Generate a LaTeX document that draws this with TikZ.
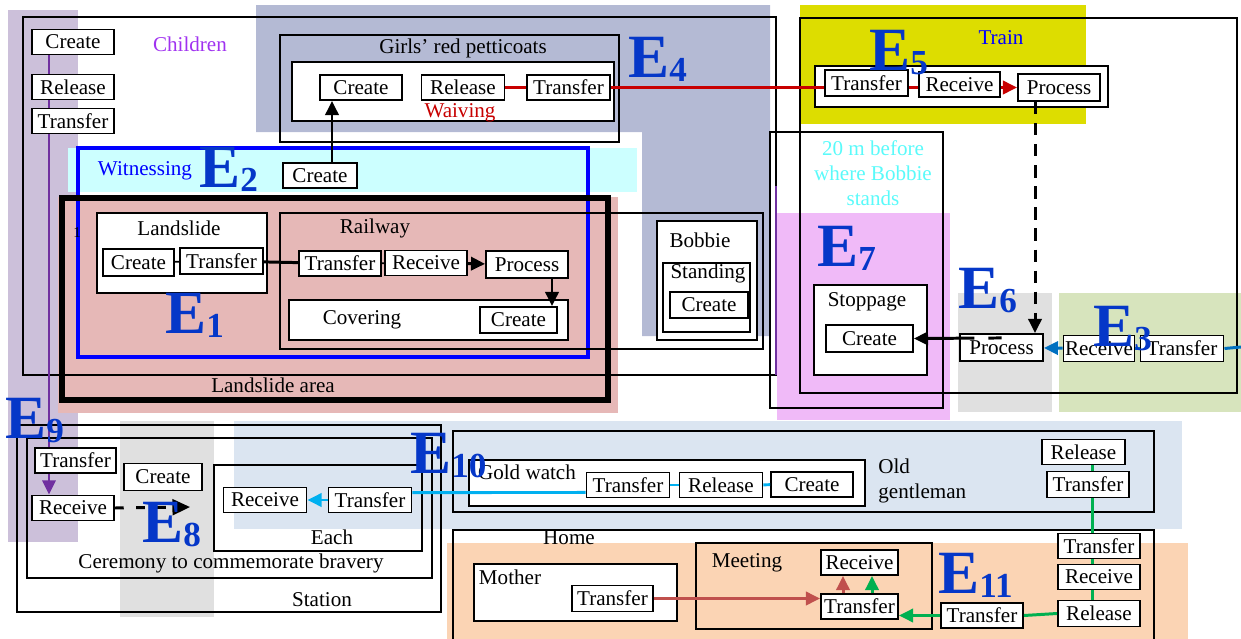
\documentclass[tikz,border=0pt]{standalone}
\usepackage{fontspec}
\setmainfont{Liberation Serif}
\usetikzlibrary{arrows.meta}

\definecolor{evblue}{RGB}{5,55,200}
\definecolor{lilac}{RGB}{204,192,218}
\definecolor{slate}{RGB}{180,186,212}
\definecolor{paleaqua}{RGB}{204,255,255}
\definecolor{rosy}{RGB}{230,184,183}
\definecolor{mustard}{RGB}{221,221,0}
\definecolor{orchid}{RGB}{240,186,248}
\definecolor{pebble}{RGB}{224,224,224}
\definecolor{sage}{RGB}{215,228,189}
\definecolor{mist}{RGB}{219,229,241}
\definecolor{apricot}{RGB}{251,212,180}
\definecolor{kidtxt}{RGB}{160,50,240}
\definecolor{aquatxt}{RGB}{90,250,250}
\definecolor{waive}{RGB}{200,0,0}
\definecolor{plum}{RGB}{112,48,160}
\definecolor{steel}{RGB}{0,112,192}
\definecolor{sky}{RGB}{0,176,240}
\definecolor{leaf}{RGB}{0,176,80}
\definecolor{brick}{RGB}{192,80,77}

\newcommand{\eventlab}[1]{E\raisebox{-2.5pt}{\fontsize{20}{20}\selectfont#1}}

\begin{document}
\begin{tikzpicture}[x=0.02cm,y=-0.02cm]
\tikzstyle{every node}+=[inner sep=0pt,font=\fontsize{12}{14.2}\selectfont]
\tikzstyle{op}=[draw,line width=1.1pt,fill=white,minimum width=1.64cm,minimum height=0.5cm]
\tikzstyle{frame}=[draw,line width=0.85pt]
\tikzstyle{wframe}=[frame,fill=white]
\tikzstyle{ev}=[anchor=base west,text=evblue,font=\fontsize{35}{35}\selectfont\bfseries]
\tikzstyle{headed}=[-{Triangle[length=8pt,width=7.5pt]}]
\tikzstyle{link}=[line width=1pt]
\tikzstyle{heavy}=[line width=1.7pt]
\useasboundingbox (0,0) rectangle (1241,639);
\fill[lilac] (8,10) rectangle (78,542);
\fill[slate] (256,5) -- (770,5) -- (770,336) -- (642,336) -- (642,132) -- (256,132) -- cycle;
\fill[paleaqua] (68,148) rectangle (637,192);
\fill[rosy] (58,197) rectangle (618,413);
\fill[mustard] (800,5) rectangle (1086,124);
\fill[orchid] (777,213) rectangle (950,420);
\fill[pebble] (958,293) rectangle (1052,412);
\fill[sage] (1059,293) rectangle (1241,412);
\fill[mist] (234,421) rectangle (1182,529);
\fill[pebble] (120,421) rectangle (214,617);
\fill[apricot] (447,543) rectangle (1188,639);
\draw[frame] (23,17) rectangle (776,375);
\draw[frame] (280,35) rectangle (619,142);
\draw[wframe] (292,62) rectangle (614,121);
\draw[blue,line width=2.2pt] (78,148) rectangle (588,357);
\draw[line width=3.2pt] (62,198) rectangle (608,400);
\draw[wframe] (97,213) rectangle (267,293);
\draw[frame] (280,213) rectangle (763,349);
\draw[wframe] (289,300) rectangle (568,340);
\draw[wframe] (657,221) rectangle (757,340);
\draw[wframe] (663,263) rectangle (750,332);
\draw[frame] (800,18) rectangle (1237,393);
\draw[wframe] (815,66) rectangle (1108,107);
\draw[frame] (770,132) rectangle (943,408);
\draw[wframe] (814,285) rectangle (927,375);
\draw[frame] (17,425) rectangle (441,612);
\draw[frame] (27,438) rectangle (432,578);
\draw[frame] (214,465) rectangle (422,551);
\draw[frame] (453,431) rectangle (1154,512);
\draw[wframe] (469,460) rectangle (865,506);
\draw[frame] (453,530) rectangle (1154,650);
\draw[wframe] (474,564) rectangle (677,621);
\draw[frame] (696,543) rectangle (932,629);
\draw[plum,line width=1.4pt] (776,186) -- (776,375);
\node[text=kidtxt] (kids) at (190,44) {Children};
\node (girls) at (463,48) {Girls’ red petticoats};
\node[text=waive] (waiv) at (460,113) {Waiving};
\node[text=blue] (witn) at (145,171) {Witnessing};
\node[font=\fontsize{8.5}{10}\selectfont] (one) at (77,233) {1};
\node (slide) at (179,228) {Landslide};
\node (rail) at (375,228) {Railway};
\node (cover) at (362,320) {Covering};
\node (area) at (273,385) {Landslide area};
\node (bob) at (700,240) {Bobbie};
\node (stand) at (708,273) {Standing};
\node[text=blue] (train) at (1001,38) {Train};
\node[text=aquatxt,align=center] (spot) at (873,173) {20 m before\\where Bobbie\\stands};
\node (stop) at (867,302) {Stoppage};
\node (stat) at (322,600) {Station};
\node (cer) at (231,563) {Ceremony to commemorate bravery};
\node (each) at (332,537) {Each};
\node (gold) at (527,472) {Gold watch};
\node[align=left,anchor=west] (oldg) at (878,481) {Old\\gentleman};
\node (home) at (569,538) {Home};
\node (moth) at (510,577) {Mother};
\node (meet) at (747,563) {Meeting};
\node[op] (cc) at (73,42) {Create};
\node[op] (cr) at (73,87) {Release};
\node[op] (ct) at (73,121) {Transfer};
\node[op] (gc) at (361,87.5) {Create};
\node[op,minimum width=1.66cm] (gr) at (463,87.5) {Release};
\node[op,minimum width=1.66cm] (gt) at (568.5,87.5) {Transfer};
\node[op,minimum width=1.48cm] (wc) at (320,175.5) {Create};
\node[op,minimum width=1.42cm,minimum height=0.54cm] (lc) at (138.5,262.5) {Create};
\node[op,minimum width=1.66cm,minimum height=0.52cm] (lt) at (221.5,261) {Transfer};
\node[op] (rt) at (340,263.5) {Transfer};
\node[op] (rr) at (426,263) {Receive};
\node[op,minimum height=0.54cm] (rp) at (527,264.5) {Process};
\node[op,minimum width=1.54cm,minimum height=0.52cm] (cvc) at (518.5,320) {Create};
\node[op,minimum width=1.56cm,minimum height=0.52cm] (bc) at (709,305) {Create};
\node[op,minimum width=1.66cm,minimum height=0.52cm] (tt) at (866.5,83) {Transfer};
\node[op,minimum width=1.62cm] (tr) at (959.5,84.5) {Receive};
\node[op,minimum height=0.54cm] (tp) at (1059,87.5) {Process};
\node[op,minimum width=1.74cm,minimum height=0.54cm] (sc) at (869.5,338.5) {Create};
\node[op,minimum width=1.66cm,minimum height=0.54cm] (pp) at (1001.5,347.5) {Process};
\node[op,minimum width=1.42cm,minimum height=0.52cm] (e3r) at (1099,348.5) {Receive};
\node[op,minimum width=1.66cm,minimum height=0.52cm] (e3t) at (1182,348.5) {Transfer};
\node[op,minimum width=1.62cm] (e9t) at (75.5,460.5) {Transfer};
\node[op] (e9r) at (73,508) {Receive};
\node[op,minimum width=1.56cm,minimum height=0.54cm] (e8c) at (163,477) {Create};
\node[op,minimum width=1.66cm] (ear) at (265,500) {Receive};
\node[op,minimum width=1.66cm] (eat) at (370,500) {Transfer};
\node[op,minimum width=1.66cm] (gwt) at (628,485) {Transfer};
\node[op,minimum width=1.66cm] (gwr) at (721,485) {Release};
\node[op] (gwc) at (812,484.5) {Create};
\node[op,minimum width=1.66cm] (ogr) at (1083.5,452) {Release};
\node[op,minimum height=0.52cm] (ogt) at (1088,484.5) {Transfer};
\node[op] (hct) at (1099,546) {Transfer};
\node[op] (hcr) at (1099,577) {Receive};
\node[op,minimum height=0.52cm] (hcl) at (1099,613.5) {Release};
\node[op] (ht) at (982,615.5) {Transfer};
\node[op,minimum width=1.62cm,minimum height=0.52cm] (mot) at (612.5,598.5) {Transfer};
\node[op,minimum width=1.54cm] (mr) at (859.5,562.5) {Receive};
\node[op,minimum width=1.54cm] (mt) at (859.5,606.5) {Transfer};
\coordinate (pv) at (49,0);
\coordinate (wx) at (332,0);
\coordinate (cx) at (552,0);
\coordinate (dx) at (1035,0);
\coordinate (gx) at (1092,0);
\coordinate (rx) at (843,0);
\coordinate (lx) at (872,0);
\coordinate (e3in) at (1241,347);
\coordinate (e8end) at (190,507);
\draw[plum,line width=1.5pt] (cc.south -| pv) -- (cr.north -| pv);
\draw[plum,line width=1.5pt] (cr.south -| pv) -- (ct.north -| pv);
\draw[plum,line width=1.5pt] (ct.south -| pv) -- (e9t.north -| pv);
\draw[plum,line width=1.5pt,headed] (e9t.south -| pv) -- (e9r.north -| pv);
\draw[waive,heavy] (gr) -- (gt);
\draw[waive,heavy] (gt.east) -- (tt.west |- gt.east);
\draw[waive,heavy] (tt.east |- gt.east) -- (tr.west |- gt.east);
\draw[waive,heavy,headed] (tr.east |- gt.east) -- (tp.west |- gt.east);
\draw[heavy,headed] (wc.north -| wx) -- (gc.south -| wx);
\draw[link] (lc) -- (lt);
\draw[heavy] (lt) -- (rt);
\draw[link] (rt) -- (rr);
\draw[heavy,headed] (rr) -- (rp);
\draw[heavy,headed] (rp.south -| cx) -- (cvc.north -| cx);
\draw[heavy,dash pattern=on 7pt off 5pt,headed] (tp.south -| dx) -- (pp.north -| dx);
\draw[heavy,dash pattern=on 7.5pt off 8pt on 40pt,headed] ([yshift=-2.8pt]pp.north) -- (sc.east);
\draw[steel,heavy] (e3in) -- (e3t.east);
\draw[steel,heavy] (e3t) -- (e3r);
\draw[steel,heavy,headed] (e3r) -- (pp);
\draw[heavy,dash pattern=on 5pt off 7pt,-{Triangle[length=10pt,width=9pt]}] (e9r.east) -- (e8end);
\draw[sky,heavy] (gwc) -- (gwr);
\draw[sky,heavy] (gwr) -- (gwt);
\draw[sky,heavy] (gwt.190) -- (eat.10);
\draw[sky,heavy,headed] (eat) -- (ear);
\draw[leaf,heavy] (ogr.south -| gx) -- (ogt.north -| gx);
\draw[leaf,heavy] (ogt.south -| gx) -- (hct.north -| gx);
\draw[leaf,heavy] (hct.south -| gx) -- (hcr.north -| gx);
\draw[leaf,heavy] (hcr.south -| gx) -- (hcl.north -| gx);
\draw[leaf,heavy] (hcl.west) -- (ht.east);
\draw[leaf,heavy,headed] (ht.west) -- (ht.west -| mt.east);
\draw[leaf,heavy,headed] (mt.north -| lx) -- (mr.south -| lx);
\draw[brick,heavy,headed] (mot.east) -- (mot.east -| mt.west);
\draw[brick,heavy,headed] (mt.north -| rx) -- (mr.south -| rx);
\node[ev] (e1) at (165,333) {\eventlab{1}};
\node[ev] (e2) at (199,187) {\eventlab{2}};
\node[ev] (e3) at (1093,346) {\eventlab{3}};
\node[ev] (e4) at (628,77) {\eventlab{4}};
\node[ev] (e5) at (869,70) {\eventlab{5}};
\node[ev] (e6) at (958,308) {\eventlab{6}};
\node[ev] (e7) at (817,266) {\eventlab{7}};
\node[ev] (e8) at (142,542) {\eventlab{8}};
\node[ev] (e9) at (5,438) {\eventlab{9}};
\node[ev] (e10) at (410,473) {\eventlab{10}};
\node[ev] (e11) at (938,593) {\eventlab{11}};
\end{tikzpicture}
\end{document}
